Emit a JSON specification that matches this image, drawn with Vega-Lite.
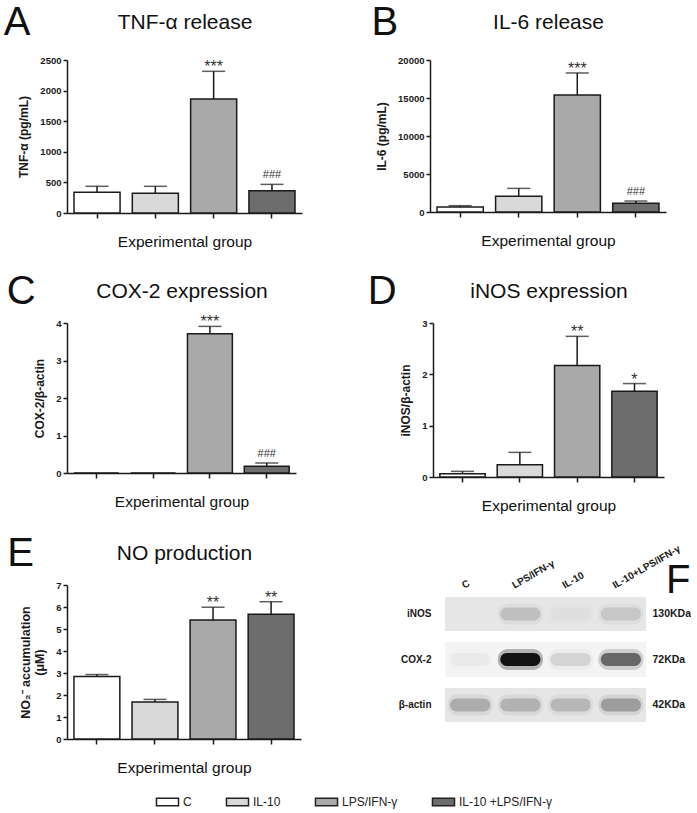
{
"$schema": "https://vega.github.io/schema/vega-lite/v6.json",
"padding": {"left": 3, "top": 3, "right": 0, "bottom": 0},
"spacing": 21,
"config": {
  "font": "Liberation Sans",
  "view": {"stroke": null},
  "axis": {"domainColor": "#1a1a1a", "domainWidth": 1.5, "tickColor": "#1a1a1a", "tickWidth": 1.5, "labelColor": "#1a1a1a", "titleColor": "#1a1a1a", "grid": false},
  "axisY": {"tickSize": 4, "labelPadding": 2, "labelFontSize": 9.5, "labelFontWeight": "bold", "titleFontSize": 12, "titleFontWeight": "bold", "titlePadding": 9},
  "title": {"font": "Liberation Sans", "fontWeight": "normal", "color": "#111"},
  "legend": {"labelFontSize": 12, "labelColor": "#222", "symbolType": "M-1.47,-0.5H1.47V0.5H-1.47Z", "symbolSize": 225, "symbolStrokeColor": "#222", "symbolStrokeWidth": 1.5, "columnPadding": 31, "labelOffset": 7}
},
"vconcat": [
{"hconcat": [
{
 "width": 235, "height": 153,
 "title": {"text": "A", "anchor": "start", "frame": "bounds", "fontSize": 40, "fontWeight": "normal", "dx": -14, "dy": 32, "offset": 0},
 "data": {"values": [
   {"group": "C", "mean": 338, "upper": 436, "star": "", "hash": ""},
   {"group": "IL-10", "mean": 321, "upper": 436, "star": "", "hash": ""},
   {"group": "LPS/IFN-γ", "mean": 1863, "upper": 2315, "star": "***", "hash": ""},
   {"group": "IL-10 +LPS/IFN-γ", "mean": 365, "upper": 468, "star": "", "hash": "###"}
 ]},
 "layer": [
  {"mark": {"type": "bar", "stroke": "#1a1a1a", "strokeWidth": 1.5},
   "encoding": {
     "x": {"field": "group", "type": "nominal", "scale": {"domain": ["C","IL-10","LPS/IFN-γ","IL-10 +LPS/IFN-γ"], "paddingInner": 0.21, "paddingOuter": 0.12},
           "axis": {"orient": "bottom", "title": "Experimental group", "labels": false, "tickSize": 5, "titleFontSize": 15.5, "titleFontWeight": "normal", "titlePadding": 16, "titleColor": "#111"}},
     "y": {"field": "mean", "type": "quantitative", "scale": {"domain": [0, 2500], "nice": false}, "axis": {"title": "TNF-α (pg/mL)", "values": [0,500,1000,1500,2000,2500], "format": "d"}},
     "color": {"field": "group", "type": "nominal", "scale": {"domain": ["C","IL-10","LPS/IFN-γ","IL-10 +LPS/IFN-γ"], "range": ["#ffffff","#d9d9d9","#a9a9a9","#6d6d6d"]}, "legend": {"title": null, "orient": "none", "legendX": 92, "legendY": 733, "direction": "horizontal"}}}},
  {"mark": {"type": "rule", "color": "#1a1a1a", "strokeWidth": 1.5},
   "encoding": {
     "x": {"field": "group", "type": "nominal", "axis": {"orient": "top", "title": "TNF-α release", "labels": false, "ticks": false, "domain": false, "titleFontSize": 21, "titleFontWeight": "normal", "titlePadding": 28, "titleColor": "#111"}},
     "y": {"field": "mean", "type": "quantitative", "axis": {"title": "TNF-α (pg/mL)", "values": [0,500,1000,1500,2000,2500], "format": "d"}}, "y2": {"field": "upper"}}},
  {"mark": {"type": "tick", "color": "#1a1a1a", "thickness": 1.5, "size": 23},
   "encoding": {"x": {"field": "group", "type": "nominal", "axis": null}, "y": {"field": "upper", "type": "quantitative", "axis": {"title": "TNF-α (pg/mL)", "values": [0,500,1000,1500,2000,2500], "format": "d"}}}},
  {"mark": {"type": "text", "fontSize": 16, "color": "#333", "baseline": "alphabetic", "dy": 1},
   "encoding": {"x": {"field": "group", "type": "nominal", "axis": null}, "y": {"field": "upper", "type": "quantitative", "axis": {"title": "TNF-α (pg/mL)", "values": [0,500,1000,1500,2000,2500], "format": "d"}}, "text": {"field": "star"}}},
  {"mark": {"type": "text", "fontSize": 11, "color": "#333", "baseline": "alphabetic", "dy": -6},
   "encoding": {"x": {"field": "group", "type": "nominal", "axis": null}, "y": {"field": "upper", "type": "quantitative", "axis": {"title": "TNF-α (pg/mL)", "values": [0,500,1000,1500,2000,2500], "format": "d"}}, "text": {"field": "hash"}}}
 ],
 "resolve": {"axis": {"x": "independent"}}
},
{
 "width": 236, "height": 152,
 "title": {"text": "B", "anchor": "start", "frame": "bounds", "fontSize": 40, "fontWeight": "normal", "dx": -4, "dy": 32, "offset": 0},
 "data": {"values": [
   {"group": "C", "mean": 656, "upper": 832, "star": "", "hash": ""},
   {"group": "IL-10", "mean": 2057, "upper": 3107, "star": "", "hash": ""},
   {"group": "LPS/IFN-γ", "mean": 15405, "upper": 18293, "star": "***", "hash": ""},
   {"group": "IL-10 +LPS/IFN-γ", "mean": 1138, "upper": 1444, "star": "", "hash": "###"}
 ]},
 "layer": [
  {"mark": {"type": "bar", "stroke": "#1a1a1a", "strokeWidth": 1.5},
   "encoding": {
     "x": {"field": "group", "type": "nominal", "scale": {"domain": ["C","IL-10","LPS/IFN-γ","IL-10 +LPS/IFN-γ"], "paddingInner": 0.21, "paddingOuter": 0.12},
           "axis": {"orient": "bottom", "title": "Experimental group", "labels": false, "tickSize": 5, "titleFontSize": 15.5, "titleFontWeight": "normal", "titlePadding": 16, "titleColor": "#111"}},
     "y": {"field": "mean", "type": "quantitative", "scale": {"domain": [0, 20000], "nice": false}, "axis": {"title": "IL-6 (pg/mL)", "values": [0,5000,10000,15000,20000], "format": "d"}},
     "color": {"field": "group", "type": "nominal", "scale": {"domain": ["C","IL-10","LPS/IFN-γ","IL-10 +LPS/IFN-γ"], "range": ["#ffffff","#d9d9d9","#a9a9a9","#6d6d6d"]}, "legend": {"title": null, "orient": "none", "legendX": 92, "legendY": 733, "direction": "horizontal"}}}},
  {"mark": {"type": "rule", "color": "#1a1a1a", "strokeWidth": 1.5},
   "encoding": {
     "x": {"field": "group", "type": "nominal", "axis": {"orient": "top", "title": "IL-6 release", "labels": false, "ticks": false, "domain": false, "titleFontSize": 21, "titleFontWeight": "normal", "titlePadding": 28, "titleColor": "#111"}},
     "y": {"field": "mean", "type": "quantitative", "axis": {"title": "IL-6 (pg/mL)", "values": [0,5000,10000,15000,20000], "format": "d"}}, "y2": {"field": "upper"}}},
  {"mark": {"type": "tick", "color": "#1a1a1a", "thickness": 1.5, "size": 23},
   "encoding": {"x": {"field": "group", "type": "nominal", "axis": null}, "y": {"field": "upper", "type": "quantitative", "axis": {"title": "IL-6 (pg/mL)", "values": [0,5000,10000,15000,20000], "format": "d"}}}},
  {"mark": {"type": "text", "fontSize": 16, "color": "#333", "baseline": "alphabetic", "dy": 1},
   "encoding": {"x": {"field": "group", "type": "nominal", "axis": null}, "y": {"field": "upper", "type": "quantitative", "axis": {"title": "IL-6 (pg/mL)", "values": [0,5000,10000,15000,20000], "format": "d"}}, "text": {"field": "star"}}},
  {"mark": {"type": "text", "fontSize": 11, "color": "#333", "baseline": "alphabetic", "dy": -6},
   "encoding": {"x": {"field": "group", "type": "nominal", "axis": null}, "y": {"field": "upper", "type": "quantitative", "axis": {"title": "IL-6 (pg/mL)", "values": [0,5000,10000,15000,20000], "format": "d"}}, "text": {"field": "hash"}}}
 ],
 "resolve": {"axis": {"x": "independent"}}
}
], "spacing": 69},
{"vconcat": [
{"hconcat": [
{
 "width": 229, "height": 150,
 "title": {"text": "C", "anchor": "start", "frame": "bounds", "fontSize": 40, "fontWeight": "normal", "dx": -27, "dy": 32, "offset": 0},
 "data": {"values": [
   {"group": "C", "mean": 0, "upper": null, "star": "", "hash": ""},
   {"group": "IL-10", "mean": 0, "upper": null, "star": "", "hash": ""},
   {"group": "LPS/IFN-γ", "mean": 3.715, "upper": 3.91, "star": "***", "hash": ""},
   {"group": "IL-10 +LPS/IFN-γ", "mean": 0.178, "upper": 0.267, "star": "", "hash": "###"}
 ]},
 "layer": [
  {"mark": {"type": "bar", "stroke": "#1a1a1a", "strokeWidth": 1.5},
   "encoding": {
     "x": {"field": "group", "type": "nominal", "scale": {"domain": ["C","IL-10","LPS/IFN-γ","IL-10 +LPS/IFN-γ"], "paddingInner": 0.21, "paddingOuter": 0.12},
           "axis": {"orient": "bottom", "title": "Experimental group", "labels": false, "tickSize": 5, "titleFontSize": 15.5, "titleFontWeight": "normal", "titlePadding": 16, "titleColor": "#111"}},
     "y": {"field": "mean", "type": "quantitative", "scale": {"domain": [0, 4], "nice": false}, "axis": {"title": "COX-2/β-actin", "values": [0,1,2,3,4], "format": "d"}},
     "color": {"field": "group", "type": "nominal", "scale": {"domain": ["C","IL-10","LPS/IFN-γ","IL-10 +LPS/IFN-γ"], "range": ["#ffffff","#d9d9d9","#a9a9a9","#6d6d6d"]}, "legend": {"title": null, "orient": "none", "legendX": 92, "legendY": 733, "direction": "horizontal"}}}},
  {"mark": {"type": "rule", "color": "#1a1a1a", "strokeWidth": 1.5},
   "encoding": {
     "x": {"field": "group", "type": "nominal", "axis": {"orient": "top", "title": "COX-2 expression", "labels": false, "ticks": false, "domain": false, "titleFontSize": 21, "titleFontWeight": "normal", "titlePadding": 22, "titleColor": "#111"}},
     "y": {"field": "mean", "type": "quantitative", "axis": {"title": "COX-2/β-actin", "values": [0,1,2,3,4], "format": "d"}}, "y2": {"field": "upper"}}},
  {"mark": {"type": "tick", "color": "#1a1a1a", "thickness": 1.5, "size": 23},
   "encoding": {"x": {"field": "group", "type": "nominal", "axis": null}, "y": {"field": "upper", "type": "quantitative", "axis": {"title": "COX-2/β-actin", "values": [0,1,2,3,4], "format": "d"}}}},
  {"mark": {"type": "text", "fontSize": 16, "color": "#333", "baseline": "alphabetic", "dy": 1},
   "encoding": {"x": {"field": "group", "type": "nominal", "axis": null}, "y": {"field": "upper", "type": "quantitative", "axis": {"title": "COX-2/β-actin", "values": [0,1,2,3,4], "format": "d"}}, "text": {"field": "star"}}},
  {"mark": {"type": "text", "fontSize": 11, "color": "#333", "baseline": "alphabetic", "dy": -6},
   "encoding": {"x": {"field": "group", "type": "nominal", "axis": null}, "y": {"field": "upper", "type": "quantitative", "axis": {"title": "COX-2/β-actin", "values": [0,1,2,3,4], "format": "d"}}, "text": {"field": "hash"}}}
 ],
 "resolve": {"axis": {"x": "independent"}}
},
{
 "width": 231, "height": 154,
 "title": {"text": "D", "anchor": "start", "frame": "bounds", "fontSize": 40, "fontWeight": "normal", "dx": -32, "dy": 32, "offset": 0},
 "data": {"values": [
   {"group": "C", "mean": 0.065, "upper": 0.11, "star": "", "hash": ""},
   {"group": "IL-10", "mean": 0.24, "upper": 0.48, "star": "", "hash": ""},
   {"group": "LPS/IFN-γ", "mean": 2.17, "upper": 2.74, "star": "**", "hash": ""},
   {"group": "IL-10 +LPS/IFN-γ", "mean": 1.67, "upper": 1.82, "star": "*", "hash": ""}
 ]},
 "layer": [
  {"mark": {"type": "bar", "stroke": "#1a1a1a", "strokeWidth": 1.5},
   "encoding": {
     "x": {"field": "group", "type": "nominal", "scale": {"domain": ["C","IL-10","LPS/IFN-γ","IL-10 +LPS/IFN-γ"], "paddingInner": 0.21, "paddingOuter": 0.12},
           "axis": {"orient": "bottom", "title": "Experimental group", "labels": false, "tickSize": 5, "titleFontSize": 15.5, "titleFontWeight": "normal", "titlePadding": 16, "titleColor": "#111"}},
     "y": {"field": "mean", "type": "quantitative", "scale": {"domain": [0, 3], "nice": false}, "axis": {"title": "iNOS/β-actin", "values": [0,1,2,3], "format": "d"}},
     "color": {"field": "group", "type": "nominal", "scale": {"domain": ["C","IL-10","LPS/IFN-γ","IL-10 +LPS/IFN-γ"], "range": ["#ffffff","#d9d9d9","#a9a9a9","#6d6d6d"]}, "legend": {"title": null, "orient": "none", "legendX": 92, "legendY": 733, "direction": "horizontal"}}}},
  {"mark": {"type": "rule", "color": "#1a1a1a", "strokeWidth": 1.5},
   "encoding": {
     "x": {"field": "group", "type": "nominal", "axis": {"orient": "top", "title": "iNOS expression", "labels": false, "ticks": false, "domain": false, "titleFontSize": 21, "titleFontWeight": "normal", "titlePadding": 22, "titleColor": "#111"}},
     "y": {"field": "mean", "type": "quantitative", "axis": {"title": "iNOS/β-actin", "values": [0,1,2,3], "format": "d"}}, "y2": {"field": "upper"}}},
  {"mark": {"type": "tick", "color": "#1a1a1a", "thickness": 1.5, "size": 23},
   "encoding": {"x": {"field": "group", "type": "nominal", "axis": null}, "y": {"field": "upper", "type": "quantitative", "axis": {"title": "iNOS/β-actin", "values": [0,1,2,3], "format": "d"}}}},
  {"mark": {"type": "text", "fontSize": 16, "color": "#333", "baseline": "alphabetic", "dy": 1},
   "encoding": {"x": {"field": "group", "type": "nominal", "axis": null}, "y": {"field": "upper", "type": "quantitative", "axis": {"title": "iNOS/β-actin", "values": [0,1,2,3], "format": "d"}}, "text": {"field": "star"}}},
  {"mark": {"type": "text", "fontSize": 11, "color": "#333", "baseline": "alphabetic", "dy": -6},
   "encoding": {"x": {"field": "group", "type": "nominal", "axis": null}, "y": {"field": "upper", "type": "quantitative", "axis": {"title": "iNOS/β-actin", "values": [0,1,2,3], "format": "d"}}, "text": {"field": "hash"}}}
 ],
 "resolve": {"axis": {"x": "independent"}}
}
], "spacing": 71},
{"hconcat": [
{
 "width": 234, "height": 154,
 "title": {"text": "E", "anchor": "start", "frame": "bounds", "fontSize": 40, "fontWeight": "normal", "dx": -12, "dy": 32, "offset": 0},
 "data": {"values": [
   {"group": "C", "mean": 2.84, "upper": 2.93, "star": "", "hash": ""},
   {"group": "IL-10", "mean": 1.68, "upper": 1.8, "star": "", "hash": ""},
   {"group": "LPS/IFN-γ", "mean": 5.41, "upper": 5.99, "star": "**", "hash": ""},
   {"group": "IL-10 +LPS/IFN-γ", "mean": 5.67, "upper": 6.24, "star": "**", "hash": ""}
 ]},
 "layer": [
  {"mark": {"type": "bar", "stroke": "#1a1a1a", "strokeWidth": 1.5},
   "encoding": {
     "x": {"field": "group", "type": "nominal", "scale": {"domain": ["C","IL-10","LPS/IFN-γ","IL-10 +LPS/IFN-γ"], "paddingInner": 0.21, "paddingOuter": 0.12},
           "axis": {"orient": "bottom", "title": "Experimental group", "labels": false, "tickSize": 5, "titleFontSize": 15.5, "titleFontWeight": "normal", "titlePadding": 16, "titleColor": "#111"}},
     "y": {"field": "mean", "type": "quantitative", "scale": {"domain": [0, 7], "nice": false}, "axis": {"title": ["NO₂⁻ accumulation", "(μM)"], "titleFontSize": 12.5, "values": [0,1,2,3,4,5,6,7], "format": "d"}},
     "color": {"field": "group", "type": "nominal", "scale": {"domain": ["C","IL-10","LPS/IFN-γ","IL-10 +LPS/IFN-γ"], "range": ["#ffffff","#d9d9d9","#a9a9a9","#6d6d6d"]}, "legend": {"title": null, "orient": "none", "legendX": 92, "legendY": 733, "direction": "horizontal"}}}},
  {"mark": {"type": "rule", "color": "#1a1a1a", "strokeWidth": 1.5},
   "encoding": {
     "x": {"field": "group", "type": "nominal", "axis": {"orient": "top", "title": "NO production", "labels": false, "ticks": false, "domain": false, "titleFontSize": 21, "titleFontWeight": "normal", "titlePadding": 22, "titleColor": "#111"}},
     "y": {"field": "mean", "type": "quantitative", "axis": {"title": ["NO₂⁻ accumulation", "(μM)"], "titleFontSize": 12.5, "values": [0,1,2,3,4,5,6,7], "format": "d"}}, "y2": {"field": "upper"}}},
  {"mark": {"type": "tick", "color": "#1a1a1a", "thickness": 1.5, "size": 23},
   "encoding": {"x": {"field": "group", "type": "nominal", "axis": null}, "y": {"field": "upper", "type": "quantitative", "axis": {"title": ["NO₂⁻ accumulation", "(μM)"], "titleFontSize": 12.5, "values": [0,1,2,3,4,5,6,7], "format": "d"}}}},
  {"mark": {"type": "text", "fontSize": 16, "color": "#333", "baseline": "alphabetic", "dy": 1},
   "encoding": {"x": {"field": "group", "type": "nominal", "axis": null}, "y": {"field": "upper", "type": "quantitative", "axis": {"title": ["NO₂⁻ accumulation", "(μM)"], "titleFontSize": 12.5, "values": [0,1,2,3,4,5,6,7], "format": "d"}}, "text": {"field": "star"}}},
  {"mark": {"type": "text", "fontSize": 11, "color": "#333", "baseline": "alphabetic", "dy": -6},
   "encoding": {"x": {"field": "group", "type": "nominal", "axis": null}, "y": {"field": "upper", "type": "quantitative", "axis": {"title": ["NO₂⁻ accumulation", "(μM)"], "titleFontSize": 12.5, "values": [0,1,2,3,4,5,6,7], "format": "d"}}, "text": {"field": "hash"}}}
 ],
 "resolve": {"axis": {"x": "independent"}}
},
{
 "width": 201, "height": 137,
 "title": {"text": "F", "anchor": "end", "frame": "bounds", "fontSize": 40, "fontWeight": "normal", "dy": 58, "offset": 0},
 "data": {"values": [
   {"lane": "C", "protein": "iNOS", "intensity": 0.0},
   {"lane": "LPS/IFN-γ", "protein": "iNOS", "intensity": 0.13},
   {"lane": "IL-10", "protein": "iNOS", "intensity": 0.02},
   {"lane": "IL-10+LPS/IFN-γ", "protein": "iNOS", "intensity": 0.1},
   {"lane": "C", "protein": "COX-2", "intensity": 0.03},
   {"lane": "LPS/IFN-γ", "protein": "COX-2", "intensity": 0.9},
   {"lane": "IL-10", "protein": "COX-2", "intensity": 0.1},
   {"lane": "IL-10+LPS/IFN-γ", "protein": "COX-2", "intensity": 0.5},
   {"lane": "C", "protein": "β-actin", "intensity": 0.2},
   {"lane": "LPS/IFN-γ", "protein": "β-actin", "intensity": 0.18},
   {"lane": "IL-10", "protein": "β-actin", "intensity": 0.16},
   {"lane": "IL-10+LPS/IFN-γ", "protein": "β-actin", "intensity": 0.26}
 ]},
 "layer": [
  {"mark": {"type": "rect"},
   "encoding": {
     "y": {"field": "protein", "type": "nominal", "scale": {"domain": ["iNOS","COX-2","β-actin"], "paddingInner": 0.25, "paddingOuter": 0.132, "align": 1},
           "axis": {"orient": "left", "title": null, "ticks": false, "domain": false, "labelFontSize": 10, "labelFontWeight": "bold", "labelPadding": 14}},
     "color": {"condition": {"test": "datum.protein === 'COX-2'", "value": "#f4f4f4"}, "value": "#e6e6e6"}}},
  {"mark": {"type": "bar", "color": "#000", "cornerRadius": 10, "width": {"band": 0.9}, "height": {"band": 0.62}},
   "encoding": {
     "x": {"field": "lane", "type": "nominal", "scale": {"domain": ["C","LPS/IFN-γ","IL-10","IL-10+LPS/IFN-γ"], "paddingInner": 0, "paddingOuter": 0}, "axis": null},
     "y": {"field": "protein", "type": "nominal", "axis": null},
     "opacity": {"field": "intensity", "type": "quantitative", "scale": {"domain": [0, 1], "range": [0, 0.3]}, "legend": null}}},
  {"mark": {"type": "bar", "color": "#000", "cornerRadius": 8, "width": {"band": 0.8}, "height": {"band": 0.38}},
   "encoding": {
     "x": {"field": "lane", "type": "nominal", "scale": {"domain": ["C","LPS/IFN-γ","IL-10","IL-10+LPS/IFN-γ"], "paddingInner": 0, "paddingOuter": 0},
           "axis": {"orient": "top", "title": null, "ticks": false, "domain": false, "labelAngle": -30, "labelAlign": "left", "labelBaseline": "bottom", "labelFontSize": 10, "labelFontWeight": "bold", "labelPadding": -5, "labelOffset": -5}},
     "y": {"field": "protein", "type": "nominal", "axis": {"orient": "right", "title": null, "ticks": false, "domain": false, "labelExpr": "datum.value === 'iNOS' ? '130KDa' : datum.value === 'COX-2' ? '72KDa' : '42KDa'", "labelFontSize": 10.5, "labelFontWeight": "bold", "labelPadding": 6}},
     "opacity": {"field": "intensity", "type": "quantitative", "scale": {"domain": [0, 1], "range": [0, 1]}, "legend": null}}}
 ],
 "resolve": {"axis": {"y": "independent", "x": "independent"}, "scale": {"opacity": "independent"}}
}
], "spacing": 97}
], "spacing": 19}
]
}
